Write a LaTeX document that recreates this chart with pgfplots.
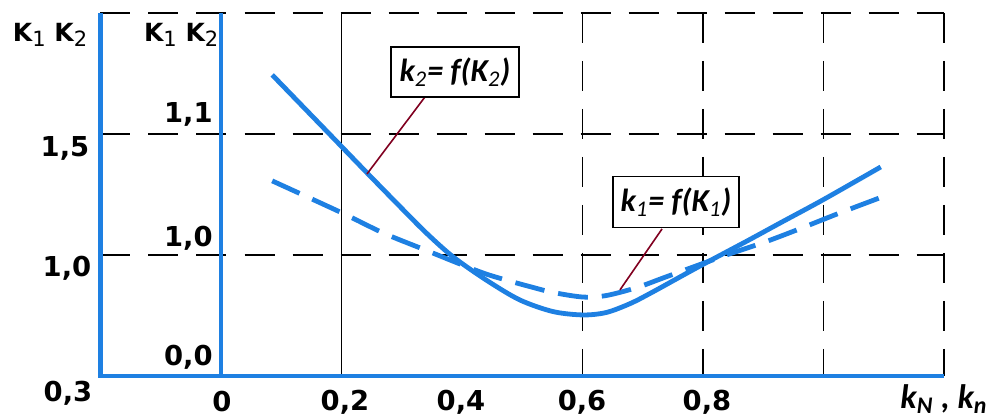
\documentclass[border=0pt]{standalone}
\usepackage{pgfplots}
\pgfplotsset{compat=1.18}
\usepackage{fontspec}
\setmainfont{DejaVu Sans}
\newfontfamily\carl{Carlito}
\definecolor{cblue}{RGB}{30,128,226}
\definecolor{lead}{RGB}{128,0,32}
\newcommand{\KK}{{\bfseries K}\raisebox{-0.4ex}{\mdseries\fontsize{10.5}{12}\selectfont 1}\hspace{0.35em}{\bfseries K}\raisebox{-0.4ex}{\mdseries\fontsize{10.5}{12}\selectfont 2}}
\begin{document}
\begin{tikzpicture}
\begin{axis}[
  scale only axis, width=421.75pt, height=181.5pt,
  xmin=-0.2, xmax=1.2, ymin=0, ymax=3,
  hide axis, clip=false]
\coordinate (bl) at (axis cs:-0.3668,-0.347);
\coordinate (tr) at (axis cs:1.2896,3.107);
% grid
\tikzset{gd/.style={black, line width=0.7pt, dash pattern=on 15pt off 9pt}}
\draw[gd] (axis cs:-0.2,3) -- (axis cs:1.2,3);
\draw[gd] (axis cs:-0.2,2) -- (axis cs:1.2,2);
\draw[gd] (axis cs:-0.2,1) -- (axis cs:1.2,1);
\draw[black, line width=0.6pt] (axis cs:0.2,0) -- (axis cs:0.2,3);
\draw[gd] (axis cs:0.6,3) -- (axis cs:0.6,0);
\draw[gd] (axis cs:0.8,3) -- (axis cs:0.8,0);
\draw[gd] (axis cs:1.0,3) -- (axis cs:1.0,0);
\draw[gd] (axis cs:1.2,3) -- (axis cs:1.2,0);
% frame
\draw[cblue, line width=2.2pt] (axis cs:-0.2,3) -- (axis cs:-0.2,0) -- (axis cs:1.2,0);
\draw[cblue, line width=2.2pt] (axis cs:0,3) -- (axis cs:0,0);
% curves
\addplot[cblue, line width=2.4pt, smooth, tension=0.5] coordinates {
(0.085,2.488) (0.176,2.020) (0.242,1.680) (0.297,1.400) (0.340,1.185)
(0.385,0.985) (0.441,0.790) (0.496,0.628) (0.551,0.532) (0.601,0.504)
(0.640,0.525) (0.680,0.600) (0.717,0.695) (0.790,0.895) (0.873,1.115)
(0.928,1.264) (0.999,1.455) (1.095,1.727)};
\addplot[cblue, line width=2.4pt, smooth, tension=0.5, dash pattern=on 15pt off 7pt] coordinates {
(0.085,1.612) (0.201,1.347) (0.269,1.182) (0.339,1.041) (0.430,0.860)
(0.475,0.790) (0.513,0.738) (0.551,0.690) (0.601,0.652) (0.640,0.665)
(0.690,0.730) (0.734,0.810) (0.790,0.912) (0.845,1.010) (0.903,1.107)
(0.956,1.207) (1.027,1.347) (1.102,1.488)};
% leaders
\draw[lead, line width=0.8pt] (axis cs:0.3386,2.306) -- (axis cs:0.2423,1.669);
\draw[lead, line width=0.8pt] (axis cs:0.7320,1.215) -- (axis cs:0.6622,0.711);
% boxes
\node[draw=black, line width=0.8pt, fill=white, minimum width=64pt, minimum height=25pt, inner sep=1pt,
  font=\carl\bfseries\itshape\fontsize{16}{18}\selectfont] at (axis cs:0.3884,2.512)
  {k\textsubscript{\mdseries 2}= f(K\textsubscript{\mdseries 2})};
\node[draw=black, line width=0.8pt, fill=white, minimum width=63pt, minimum height=25.5pt, inner sep=1pt,
  font=\carl\bfseries\itshape\fontsize{16}{18}\selectfont] at (axis cs:0.7552,1.438)
  {k\textsubscript{\mdseries 1}= f(K\textsubscript{\mdseries 1})};
% labels
\tikzset{tl/.style={font=\bfseries\fontsize{13.7}{16}\selectfont, inner sep=0pt}}
\node[font=\fontsize{12.5}{14}\selectfont, inner sep=0pt] at (axis cs:-0.2838,2.818) {\KK};
\node[font=\fontsize{12.5}{14}\selectfont, inner sep=0pt] at (axis cs:-0.066,2.818) {\KK};
\node[tl] at (axis cs:-0.2589,1.884) {1,5};
\node[tl] at (axis cs:-0.2556,0.893) {1,0};
\node[tl] at (axis cs:-0.254,-0.140) {0,3};
\node[tl, anchor=east] at (axis cs:-0.0133,2.165) {1,1};
\node[tl, anchor=east] at (axis cs:-0.0133,1.140) {1,0};
\node[tl, anchor=east] at (axis cs:-0.0133,0.157) {0,0};
\node[tl] at (axis cs:0.0017,-0.215) {0};
\node[tl] at (axis cs:0.2058,-0.215) {0,2};
\node[tl] at (axis cs:0.3983,-0.215) {0,4};
\node[tl] at (axis cs:0.5992,-0.215) {0,6};
\node[tl] at (axis cs:0.8066,-0.215) {0,8};
\node[anchor=west, inner sep=0pt, font=\carl\bfseries\itshape\fontsize{17}{19}\selectfont] at (axis cs:1.127,-0.19)
  {k\textsubscript{N} , k\textsubscript{n}};
\end{axis}
\pgfresetboundingbox
\useasboundingbox (bl) rectangle (tr);
\end{tikzpicture}
\end{document}
